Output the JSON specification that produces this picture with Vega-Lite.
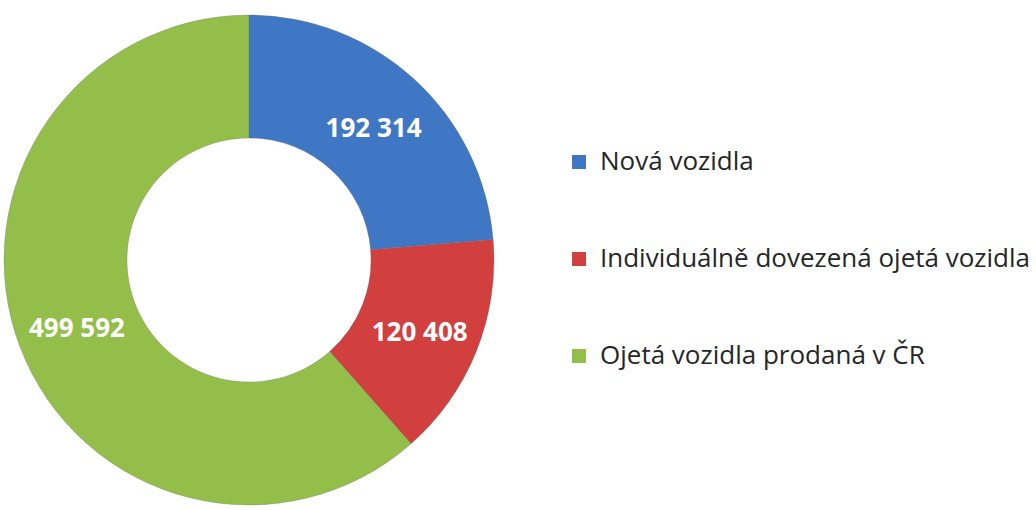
{
  "$schema": "https://vega.github.io/schema/vega-lite/v6.json",
  "width": 498,
  "height": 510,
  "autosize": {"type": "none"},
  "padding": {"left": 0, "top": 5, "right": 538, "bottom": 0},
  "background": "white",
  "config": {
    "view": {"stroke": null},
    "locale": {"number": {"decimal": ",", "thousands": " ", "grouping": [3], "currency": ["", " Kč"]}}
  },
  "data": {
    "values": [
      {"kategorie": "Nová vozidla", "pocet": 192314, "poradi": 1},
      {"kategorie": "Individuálně dovezená ojetá vozidla", "pocet": 120408, "poradi": 2},
      {"kategorie": "Ojetá vozidla prodaná v ČR", "pocet": 499592, "poradi": 3}
    ]
  },
  "encoding": {
    "theta": {"field": "pocet", "type": "quantitative", "stack": true},
    "order": {"field": "poradi", "type": "quantitative"}
  },
  "layer": [
    {
      "mark": {"type": "arc", "radius": 245, "radius2": 122, "stroke": "#5a5a5a", "strokeOpacity": 0.25, "strokeWidth": 1},
      "encoding": {
        "color": {
          "field": "kategorie",
          "type": "nominal",
          "scale": {
            "domain": ["Nová vozidla", "Individuálně dovezená ojetá vozidla", "Ojetá vozidla prodaná v ČR"],
            "range": ["#4077c4", "#d13f3f", "#93be4a"]
          },
          "legend": {
            "orient": "none",
            "legendX": 566,
            "legendY": 144,
            "title": null,
            "symbolType": "square",
            "symbolSize": 196,
            "symbolStrokeWidth": 0,
            "labelFont": "Open Sans",
            "labelFontSize": 26,
            "labelColor": "#262626",
            "labelOffset": 8,
            "labelLimit": 600,
            "rowPadding": 71
          }
        }
      }
    },
    {
      "mark": {"type": "text", "radius": 184, "dy": 4, "font": "Open Sans", "fontSize": 26, "fontWeight": "bold", "fill": "white", "align": "center", "baseline": "middle"},
      "encoding": {
        "text": {"field": "pocet", "type": "quantitative", "format": ",d"}
      }
    }
  ]
}
